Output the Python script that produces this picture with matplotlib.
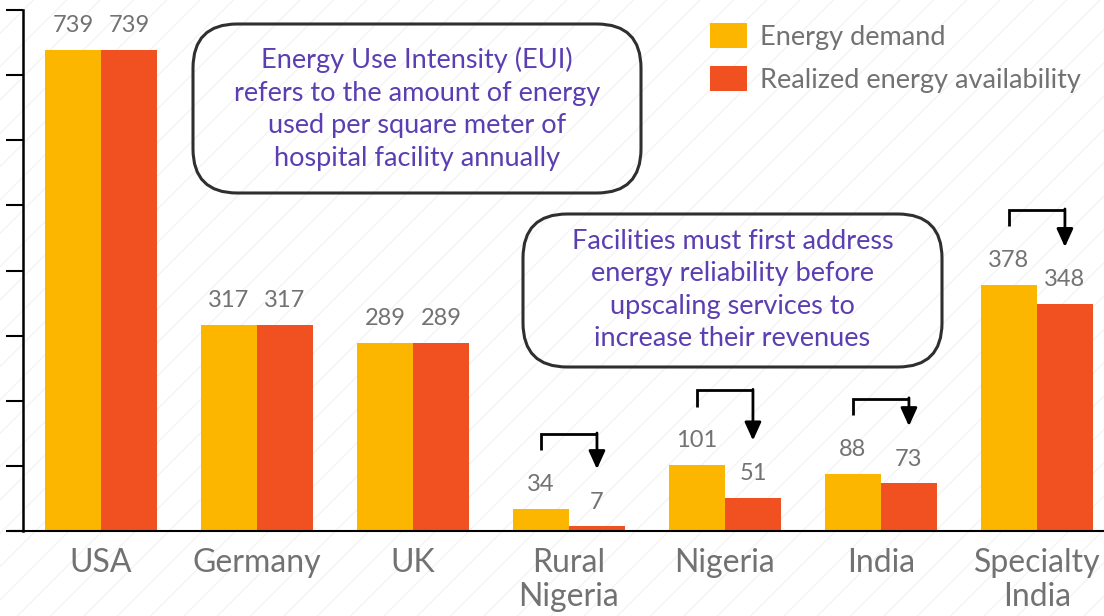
import matplotlib.pyplot as plt
import numpy as np
from matplotlib.patches import Rectangle, FancyBboxPatch

plt.rcParams['font.family'] = ['Lato', 'DejaVu Sans']
plt.rcParams['hatch.color'] = '#f4f4f4'
plt.rcParams['hatch.linewidth'] = 1.0

# data
countries = ["USA", "Germany", "UK", "Rural\nNigeria", "Nigeria", "India", "Specialty\nIndia"]
demand = [739, 317, 289, 34, 101, 88, 378]
available = [739, 317, 289, 7, 51, 73, 348]
arrow_groups = [3, 4, 5, 6]   # groups with a drop from demand to availability

yellow = '#FDB600'
red = '#F15121'
grey = '#727272'
purple = '#5B3FB2'

fig = plt.figure(figsize=(11.04, 6.16), dpi=100)
# faint striped background
fig.patches.append(Rectangle((0, 0), 1, 1, transform=fig.transFigure, facecolor='white',
                             edgecolor='#f4f4f4', hatch='/', lw=0, zorder=-10))
ax = fig.add_axes([23 / 1104, 85 / 616, 1 - 23 / 1104, 521 / 616])
ax.patch.set_alpha(0)

x = np.arange(len(countries))
w = 0.359
ax.bar(x - w / 2, demand, w, color=yellow, label='Energy demand', zorder=2)
ax.bar(x + w / 2, available, w, color=red, label='Realized energy availability', zorder=2)

for xi, d, a in zip(x, demand, available):
    ax.annotate(str(d), (xi - w / 2, d), xytext=(0, 10), textcoords='offset points',
                ha='center', va='bottom', fontsize=17, color=grey)
    ax.annotate(str(a), (xi + w / 2, a), xytext=(0, 10), textcoords='offset points',
                ha='center', va='bottom', fontsize=17, color=grey)

# bracket arrows
for i in arrow_groups:
    top = demand[i] + 115
    tip = available[i] + 88
    ax.plot([x[i] - w / 2, x[i] - w / 2, x[i] + w / 2], [top - 25, top, top],
            color='black', lw=2, solid_capstyle='butt', solid_joinstyle='miter', zorder=3)
    ax.annotate('', xy=(x[i] + w / 2, tip), xytext=(x[i] + w / 2, top + 1.5),
                arrowprops=dict(arrowstyle='-|>,head_length=1.1,head_width=0.5',
                                color='black', lw=2, shrinkA=0, shrinkB=0), zorder=3)

ax.set_xlim(-0.5, 6.43)
ax.set_ylim(0, 800)
ax.set_yticks(np.arange(0, 801, 100))
ax.set_yticklabels([])
ax.tick_params(axis='y', length=12, width=1.5, color='black')
ax.set_xticks(x)
ax.set_xticklabels(countries, fontsize=23, color=grey, linespacing=1.2)
ax.tick_params(axis='x', length=0, pad=12)
for s in ['top', 'right']:
    ax.spines[s].set_visible(False)
ax.spines['left'].set_linewidth(1.8)
ax.spines['bottom'].set_linewidth(1.5)
ax.spines['bottom'].set_bounds(-0.575, 6.43)

leg = ax.legend(loc='upper left', bbox_to_anchor=(668 / 1081, 1.012), frameon=False,
                fontsize=19.5, labelcolor=grey, handlelength=1.35, handleheight=1.05,
                handletextpad=0.5, labelspacing=0.62, borderaxespad=0.3)

# annotation boxes
def note(x0, y0, x1, y1, lines, cy):
    box = FancyBboxPatch((x0 / 1104, 1 - y1 / 616), (x1 - x0) / 1104, (y1 - y0) / 616,
                         boxstyle='round,pad=0,rounding_size=0.04', transform=fig.transFigure,
                         facecolor='none', edgecolor='#2f2f2f', lw=2.2, mutation_aspect=1104 / 616)
    fig.patches.append(box)
    fig.text((x0 + x1) / 2 / 1104, 1 - cy / 616, lines, ha='center', va='center',
             fontsize=19.5, color=purple, linespacing=1.38)

note(193, 24, 641, 193,
     "Energy Use Intensity (EUI)\nrefers to the amount of energy\nused per square meter of\nhospital facility annually", 109)
note(523, 214, 942, 367,
     "Facilities must first address\nenergy reliability before\nupscaling services to\nincrease their revenues", 290)

fig.savefig('out.png', dpi=100)
